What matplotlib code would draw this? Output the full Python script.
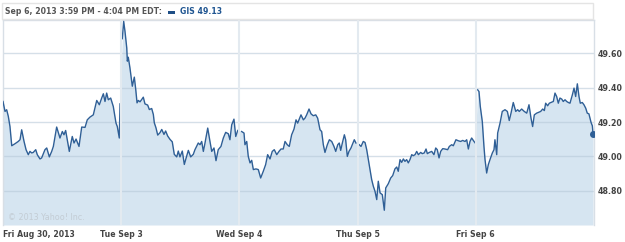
import numpy as np
import matplotlib
matplotlib.use("Agg")
import matplotlib.pyplot as plt
from matplotlib.patches import Rectangle

# GIS intraday, Fri Aug 30 2013 .. Fri Sep 6 2013
# t = trading day position (0 = Aug 30 open, 1 = Sep 3 open, ...)
t = [
    0.000, 0.017, 0.031, 0.045, 0.059, 0.074, 0.102, 0.129, 0.144, 0.158,
    0.178, 0.195, 0.214, 0.228, 0.243, 0.256, 0.277, 0.290, 0.313, 0.327,
    0.355, 0.370, 0.392, 0.412, 0.426, 0.454, 0.482, 0.502, 0.516, 0.530,
    0.561, 0.586, 0.601, 0.618, 0.643, 0.666, 0.694, 0.713, 0.736, 0.764,
    0.793, 0.815, 0.835, 0.849, 0.863, 0.877, 0.891, 0.911, 0.933, 0.956,
    0.967, 0.984, 0.990,
    1.009, 1.021, 1.032, 1.047, 1.052, 1.060, 1.074, 1.094, 1.111, 1.123,
    1.134, 1.145, 1.159, 1.173, 1.187, 1.201, 1.224, 1.238, 1.258, 1.272,
    1.280, 1.294, 1.309, 1.328, 1.343, 1.362, 1.376, 1.393, 1.413, 1.432,
    1.449, 1.470, 1.483, 1.497, 1.517, 1.534, 1.554, 1.568, 1.588, 1.610,
    1.624, 1.652, 1.667, 1.681, 1.695, 1.709, 1.732, 1.751, 1.766, 1.785,
    1.802, 1.821, 1.844, 1.864, 1.884, 1.906, 1.920, 1.935, 1.954, 1.969,
    1.986,
    2.019, 2.039, 2.047, 2.062, 2.075, 2.090, 2.104, 2.118, 2.140, 2.160,
    2.180, 2.202, 2.222, 2.239, 2.259, 2.278, 2.295, 2.316, 2.335, 2.352,
    2.371, 2.386, 2.405, 2.422, 2.442, 2.462, 2.479, 2.493, 2.521, 2.541,
    2.555, 2.569, 2.589, 2.606, 2.625, 2.646, 2.662, 2.682, 2.696, 2.710,
    2.724, 2.744, 2.761, 2.781, 2.800, 2.815, 2.832, 2.845, 2.857, 2.871,
    2.888, 2.899, 2.913, 2.927, 2.944, 2.955, 2.972, 2.986,
    3.014, 3.029, 3.048, 3.063, 3.077, 3.091, 3.105, 3.119, 3.133, 3.147,
    3.162, 3.175, 3.190, 3.209, 3.226, 3.238, 3.260, 3.280, 3.297, 3.316,
    3.331, 3.344, 3.359, 3.373, 3.387, 3.401, 3.415, 3.429, 3.443, 3.458,
    3.471, 3.486, 3.500, 3.514, 3.534, 3.547, 3.564, 3.579, 3.590, 3.607,
    3.627, 3.646, 3.661, 3.674, 3.689, 3.703, 3.720, 3.739, 3.762, 3.776,
    3.796, 3.810, 3.832, 3.852, 3.872, 3.889, 3.909, 3.923, 3.937, 3.951,
    3.965, 3.985, 3.995,
    4.016, 4.027, 4.038, 4.055, 4.069, 4.078, 4.092, 4.106, 4.120, 4.140,
    4.154, 4.162, 4.177, 4.185, 4.205, 4.224, 4.247, 4.267, 4.283, 4.298,
    4.317, 4.338, 4.354, 4.368, 4.388, 4.410, 4.431, 4.450, 4.467, 4.481,
    4.495, 4.515, 4.529, 4.549, 4.566, 4.580, 4.591, 4.608, 4.622, 4.642,
    4.656, 4.670, 4.684, 4.698, 4.712, 4.727, 4.740, 4.755, 4.769, 4.783,
    4.797, 4.817, 4.831, 4.845, 4.859, 4.873, 4.884, 4.901, 4.915, 4.930,
    4.943, 4.957, 4.975, 4.986, 4.992,
]
price = [
    49.320, 49.262, 49.272, 49.233, 49.174, 49.062, 49.074, 49.087, 49.097, 49.155,
    49.087, 49.039, 49.010, 49.029, 49.020, 49.023, 49.039, 49.010, 48.985, 48.991,
    49.039, 49.049, 48.997, 49.029, 49.058, 49.171, 49.107, 49.145, 49.126, 49.151,
    49.029, 49.116, 49.078, 49.101, 49.058, 49.171, 49.169, 49.213, 49.229, 49.242,
    49.326, 49.301, 49.340, 49.365, 49.320, 49.369, 49.330, 49.340, 49.291, 49.194,
    49.174, 49.107, 49.306,
    49.686, 49.787, 49.729, 49.632, 49.555, 49.578, 49.516, 49.409, 49.462, 49.390,
    49.312, 49.326, 49.318, 49.331, 49.345, 49.306, 49.299, 49.273, 49.279, 49.244,
    49.196, 49.167, 49.124, 49.138, 49.157, 49.128, 49.148, 49.119, 49.099, 49.085,
    49.012, 48.997, 49.031, 48.997, 49.031, 48.953, 49.002, 49.035, 48.997, 49.012,
    49.039, 49.078, 49.068, 49.087, 49.029, 49.078, 49.165, 49.087, 49.029, 49.049,
    48.975, 49.039, 49.058, 49.107, 49.140, 49.132, 49.097, 49.184, 49.217, 49.116,
    49.151,
    49.145, 49.136, 49.068, 49.087, 49.000, 48.962, 48.977, 48.923, 48.927, 48.923,
    48.874, 48.913, 48.952, 49.010, 48.985, 49.029, 49.039, 49.010, 49.029, 49.043,
    49.043, 49.087, 49.068, 49.058, 49.126, 49.159, 49.213, 49.194, 49.242, 49.213,
    49.223, 49.242, 49.276, 49.248, 49.237, 49.242, 49.223, 49.155, 49.145, 49.068,
    49.023, 49.068, 49.097, 49.087, 49.058, 49.029, 49.068, 49.078, 49.035, 49.078,
    49.126, 49.097, 49.000, 49.029, 49.049, 49.068, 49.097, 49.078,
    49.068, 49.058, 49.087, 49.081, 49.039, 48.981, 48.923, 48.865, 48.826, 48.797,
    48.748, 48.855, 48.787, 48.777, 48.686, 48.816, 48.841, 48.874, 48.888, 48.927,
    48.938, 48.913, 48.981, 48.965, 48.985, 48.971, 48.981, 48.962, 48.981, 49.010,
    49.004, 49.010, 49.029, 49.010, 49.023, 49.016, 49.020, 49.043, 49.016, 49.023,
    49.029, 49.010, 49.049, 49.039, 48.991, 49.029, 49.045, 49.043, 49.039, 49.058,
    49.068, 49.062, 49.097, 49.091, 49.087, 49.093, 49.087, 49.097, 49.043, 49.087,
    49.107, 49.087, 49.078,
    49.388, 49.378, 49.291, 49.203, 49.058, 48.981, 48.903, 48.952, 48.981, 49.020,
    49.039, 49.097, 49.010, 49.136, 49.194, 49.262, 49.272, 49.262, 49.209, 49.252,
    49.314, 49.262, 49.272, 49.262, 49.276, 49.262, 49.252, 49.301, 49.223, 49.174,
    49.242, 49.252, 49.256, 49.262, 49.276, 49.267, 49.310, 49.295, 49.310, 49.316,
    49.320, 49.369, 49.349, 49.310, 49.340, 49.334, 49.320, 49.330, 49.320, 49.314,
    49.310, 49.359, 49.398, 49.349, 49.423, 49.349, 49.310, 49.314, 49.301, 49.281,
    49.252, 49.248, 49.198, 49.178, 49.130,
]
day_labels = ["Fri Aug 30, 2013", "Tue Sep 3", "Wed Sep 4", "Thu Sep 5", "Fri Sep 6"]
y_ticks = [48.80, 49.00, 49.20, 49.40, 49.60]

header_text = "Sep 6, 2013 3:59 PM - 4:04 PM EDT:"
legend_text = "GIS 49.13"

line_col = "#2f5f96"
fill_col = "#d6e5f1"
text_col = "#444444"

t = np.array(t)
price = np.array(price)

W, H = 625, 242
fig = plt.figure(figsize=(W / 100, H / 100), dpi=100)
fig.patch.set_facecolor("white")

# plot area in pixels: x 3..594, y 20..225
ax = fig.add_axes([3 / W, (H - 225) / H, (594 - 3) / W, (225 - 20) / H])
ax.set_xlim(0, 5)
ax.set_ylim(48.60, 49.795)

ax.fill_between(t, price, 48.60, color=fill_col, lw=0, zorder=1)
days = np.floor(t).astype(int)
for d in np.unique(days):
    m = days == d
    ax.plot(t[m], price[m], color=line_col, lw=1.0, zorder=3)
ax.plot(t[-1], price[-1], "o", color=line_col, ms=4, zorder=4)

# gridlines
for yv in y_ticks:
    ax.axhline(yv, color="#b4c6d6", alpha=0.55, lw=1.0, zorder=2)
for xv in range(1, 5):
    ax.axvline(xv, color="#e3eaf0", lw=1.5, zorder=5)

for s in ["left", "top", "right"]:
    ax.spines[s].set_color("#d8dfe6")
    ax.spines[s].set_linewidth(1.0)
ax.spines["bottom"].set_visible(False)

ax.set_xticks(range(5))
ax.set_xticklabels(day_labels, fontsize=5.6, fontweight="bold", color=text_col)
ax.get_xticklabels()[0].set_ha("left")
ax.tick_params(axis="x", length=0, pad=3.5)

ax.yaxis.tick_right()
ax.set_yticks(y_ticks)
ax.set_yticklabels(["%.2f" % v for v in y_ticks], fontsize=5.7, fontweight="bold", color=text_col)
ax.tick_params(axis="y", length=0, pad=2.5)

ax.text(0.04, 48.63, "\u00a9 2013 Yahoo! Inc.", fontsize=5.8, color="#c3ccd4", zorder=6)

# header strip
fig.patches.append(Rectangle((2 / W, (H - 19) / H), (593 - 2) / W, 16 / H,
                             transform=fig.transFigure, facecolor="white",
                             edgecolor="#e4e4e4", lw=1.0))
fig.text(5 / W, (H - 11.5) / H, header_text, fontsize=5.6, fontweight="bold",
         color="#555555", va="center", ha="left")
fig.patches.append(Rectangle((168 / W, (H - 13.5) / H), 7 / W, 3 / H,
                             transform=fig.transFigure, facecolor="#1f4f86", lw=0))
fig.text(180 / W, (H - 11.5) / H, legend_text, fontsize=5.6, fontweight="bold",
         color="#1f5591", va="center", ha="left")

fig.savefig("out.png", dpi=100)
